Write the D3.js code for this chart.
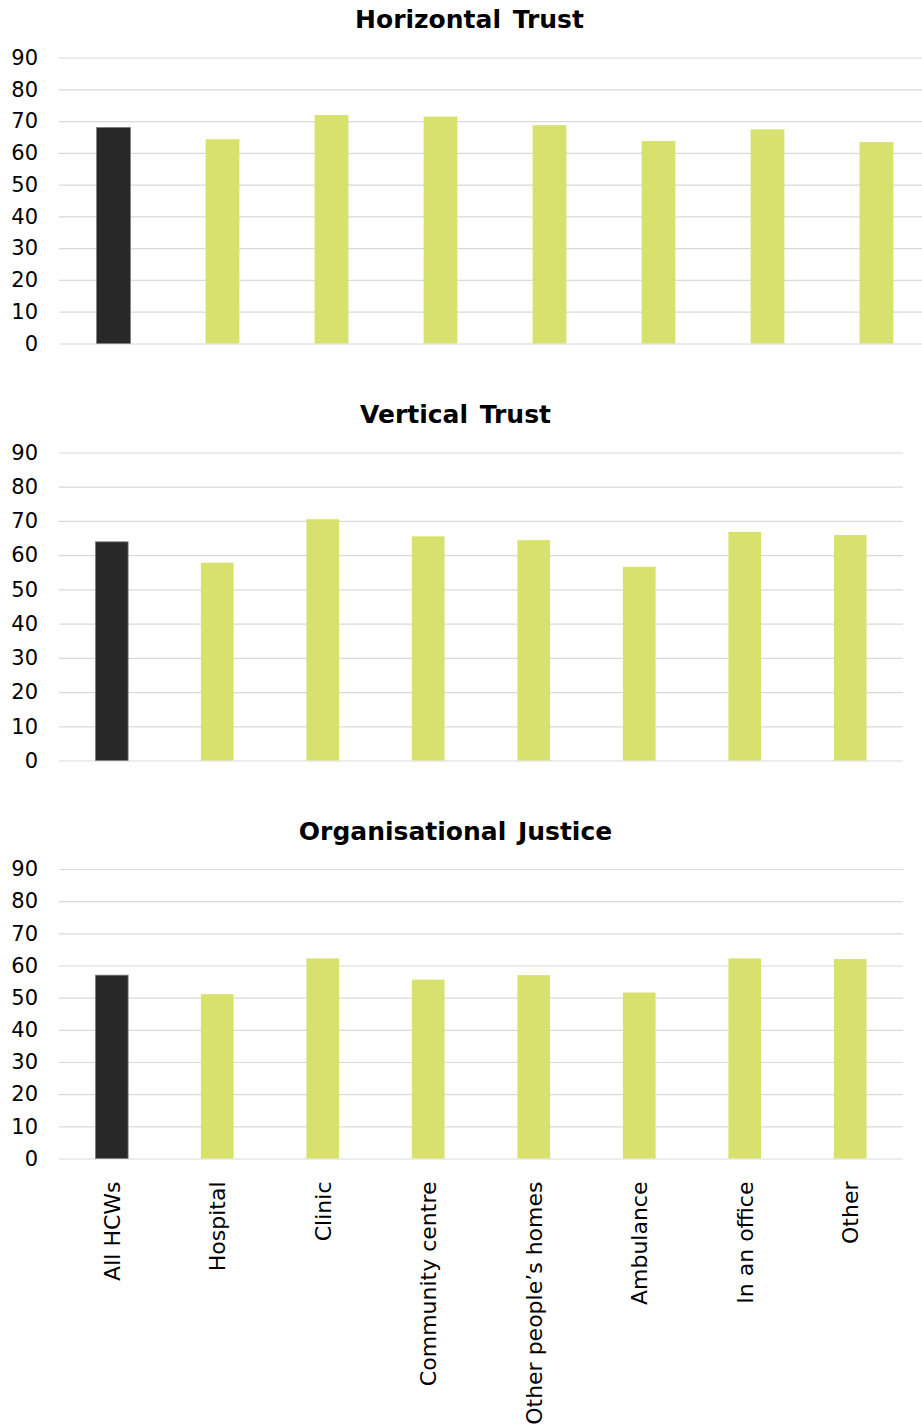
<!DOCTYPE html>
<html>
<head>
<meta charset="utf-8">
<script src="https://cdn.jsdelivr.net/npm/d3@7"></script>
<style>
  html, body { margin: 0; padding: 0; background: #fff; }
  svg { display: block; }
  text { font-family: "DejaVu Sans", Verdana, sans-serif; fill: #000; }
</style>
</head>
<body>
<svg id="chart" width="922" height="1426"></svg>
<script>
// ---- Data ----
const categories = ["All HCWs", "Hospital", "Clinic", "Community centre",
  "Other people\u2019s homes", "Ambulance", "In an office", "Other"];
const titles = ["Horizontal Trust", "Vertical Trust", "Organisational Justice"];
const horizontalTrust = [68.0, 64.3, 71.9, 71.4, 68.7, 63.7, 67.4, 63.4];
const verticalTrust = [63.9, 57.8, 70.5, 65.5, 64.4, 56.6, 66.8, 65.9];
const organisationalJustice = [57.0, 51.1, 62.2, 55.6, 57.0, 51.6, 62.2, 62.0];
const yTicks = [0, 10, 20, 30, 40, 50, 60, 70, 80, 90];

// ---- Layout ----
const panels = [
  { title: titles[0], values: horizontalTrust, x0: 59, x1: 931, yTop: 57.5, yBot: 343.5, titleX: 469.5, titleY: 28 },
  { title: titles[1], values: verticalTrust, x0: 59, x1: 903, yTop: 452.5, yBot: 760.5, titleX: 455.5, titleY: 423 },
  { title: titles[2], values: organisationalJustice, x0: 59, x1: 903, yTop: 869, yBot: 1158.5, titleX: 455.5, titleY: 840 }
];

const svg = d3.select("#chart");

panels.forEach((p, pi) => {
  const x = d3.scaleBand().domain(categories).range([p.x0, p.x1]).padding(0);
  const y = d3.scaleLinear().domain([0, 90]).range([p.yBot, p.yTop]);
  const g = svg.append("g");
  const gridRight = Math.min(p.x1, 922);

  // gridlines
  g.append("g")
    .attr("transform", `translate(${p.x0},0)`)
    .call(d3.axisLeft(y).tickValues(yTicks).tickSize(-(gridRight - p.x0)).tickFormat(""))
    .call(ax => ax.select(".domain").remove())
    .call(ax => ax.selectAll(".tick line").attr("stroke", "#d9d9d9").attr("stroke-width", 1.2));

  // y tick labels
  g.append("g")
    .attr("transform", `translate(38,0)`)
    .call(d3.axisLeft(y).tickValues(yTicks).tickSize(0).tickPadding(0))
    .call(ax => ax.select(".domain").remove())
    .call(ax => ax.selectAll(".tick text")
      .style("font-family", "'DejaVu Sans', Verdana, sans-serif")
      .style("font-size", "21px").attr("fill", "#000"));

  // bars
  const barW = x.bandwidth() * 0.31;
  g.selectAll("rect.bar").data(p.values).join("rect")
    .attr("class", "bar")
    .attr("x", (d, i) => x(categories[i]) + x.bandwidth() / 2 - barW / 2)
    .attr("width", barW)
    .attr("y", d => y(d))
    .attr("height", d => y(0) - y(d))
    .attr("fill", (d, i) => i === 0 ? "#282828" : "#d9e16e")
    .attr("stroke", (d, i) => i === 0 ? "#7f7f7f" : "none")
    .attr("stroke-width", 0.8);

  // title
  svg.append("text")
    .attr("x", p.titleX).attr("y", p.titleY)
    .attr("text-anchor", "middle")
    .style("font-weight", "bold")
    .style("font-size", "25px")
    .style("word-spacing", "3px")
    .text(p.title);

  // category labels under last panel
  if (pi === panels.length - 1) {
    g.append("g")
      .attr("transform", `translate(0,${p.yBot})`)
      .call(d3.axisBottom(x).tickSize(0).tickPadding(0))
      .call(ax => ax.select(".domain").remove())
      .call(ax => ax.selectAll(".tick text")
        .style("font-family", "'DejaVu Sans', Verdana, sans-serif")
        .style("font-size", "22px")
        .attr("fill", "#000")
        .attr("text-anchor", "end")
        .attr("transform", "rotate(-90)")
        .attr("x", -23)
        .attr("y", 0)
        .attr("dy", "0.36em"));
  }
});
</script>
</body>
</html>
